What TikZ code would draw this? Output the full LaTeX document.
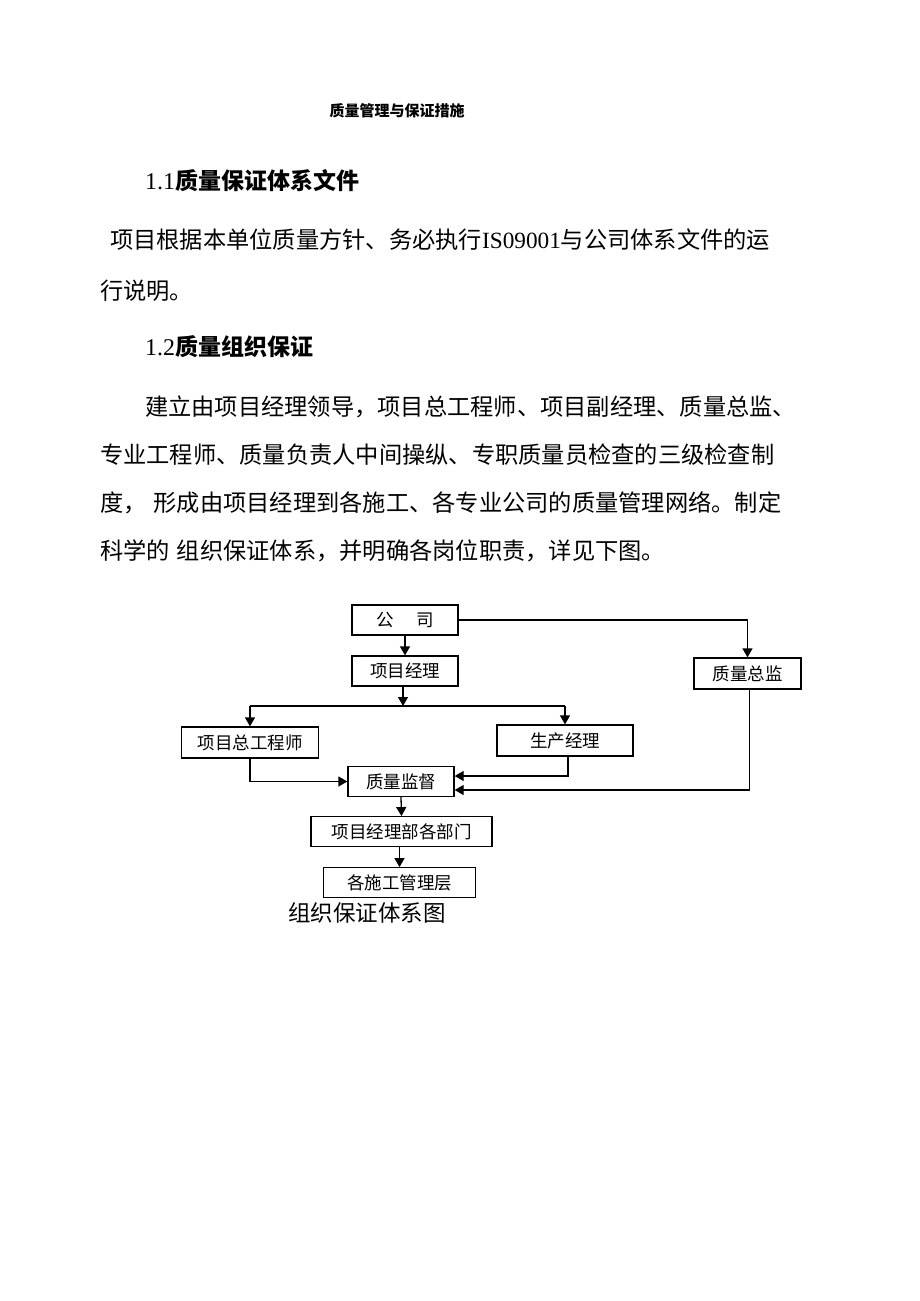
\documentclass[tikz,border=0pt]{standalone}
\usepackage{fontspec}
\setmainfont{Liberation Serif}
\newfontfamily\cjk{Noto Sans CJK SC}
\usetikzlibrary{arrows.meta}
\tikzset{
  box/.style={draw, line width=1.3pt, inner sep=0pt, font=\cjk\fontsize{17.5}{19}\selectfont},
  arr/.style={line width=1.3pt, -{Triangle[length=9pt,width=10pt]}},
  conn/.style={line width=1.3pt},
  body/.style={anchor=west, inner sep=0pt, font=\cjk\fontsize{23.25}{27}\selectfont},
  head/.style={anchor=west, inner sep=0pt, font=\cjk\bfseries\fontsize{23}{27}\selectfont},
}
\begin{document}
\begin{tikzpicture}[x=1pt,y=-1pt]
\useasboundingbox[fill=white] (0,0) rectangle (920,1301);
% title and text
\node[anchor=center, inner sep=0pt, font=\cjk\bfseries\fontsize{15}{17}\selectfont] (title) at (397,111) {质量管理与保证措施};
\node[head] (h1) at (145,181) {{\rmfamily\mdseries\fontsize{24}{27}\selectfont 1.1}质量保证体系文件};
\node[body] (p1a) at (110,240) {项目根据本单位质量方针、务必执行{\rmfamily IS09001}与公司体系文件的运};
\node[body] (p1b) at (100,291) {行说明。};
\node[head] (h2) at (145,347) {{\rmfamily\mdseries\fontsize{24}{27}\selectfont 1.2}质量组织保证};
\node[body] (p2a) at (145,407) {建立由项目经理领导，项目总工程师、项目副经理、质量总监、};
\node[body] (p2b) at (100,455) {专业工程师、质量负责人中间操纵、专职质量员检查的三级检查制};
\node[body] (p2c) at (100,503) {度，\hspace{0.3em}形成由项目经理到各施工、各专业公司的质量管理网络。制定};
\node[body] (p2d) at (100,551) {科学的\hspace{0.3em}组织保证体系，并明确各岗位职责，详见下图。};
% boxes
\node[box, minimum width=106pt, minimum height=30pt] (co) at (405,620) {公\hspace{1.3em}司};
\node[box, minimum width=106pt, minimum height=30pt] (pm) at (405,671) {项目经理};
\node[box, minimum width=107pt, minimum height=31pt] (qd) at (747.5,673.5) {质量总监};
\node[box, minimum width=137pt, minimum height=31pt] (ce) at (250,742.5) {项目总工程师};
\node[box, minimum width=136pt, minimum height=31pt] (prm) at (565,740.5) {生产经理};
\node[box, minimum width=106pt, minimum height=30pt] (qs) at (401,781.5) {质量监督};
\node[box, minimum width=181pt, minimum height=30pt] (dept) at (401.5,831.7) {项目经理部各部门};
\node[box, minimum width=152pt, minimum height=29.5pt] (cl) at (399.5,882.5) {各施工管理层};
\node[anchor=center, inner sep=0pt, font=\cjk\fontsize{22.5}{26}\selectfont] (cap) at (367,913) {组织保证体系图};
% connectors
\coordinate (br) at (403,706);
\draw[arr] (co.south) -- (pm.north);
\draw[arr] (co.east) -| (qd.north);
\draw[arr] (pm.south -| br) -- (br);
\draw[conn] (ce.north |- br) -- (prm.north |- br);
\draw[arr] (ce.north |- br) -- (ce.north);
\draw[arr] (prm.north |- br) -- (prm.north);
\draw[arr] (ce.south) |- (qs.west);
\draw[arr] ([xshift=3pt]prm.south) |- ([yshift=5.5pt]qs.east);
\draw[arr] ([xshift=2pt]qd.south) |- ([yshift=-8.5pt]qs.east);
\draw[arr] (qs.south) -- (dept.north);
\draw[arr] (dept.south -| cl.north) -- (cl.north);
\end{tikzpicture}
\end{document}
